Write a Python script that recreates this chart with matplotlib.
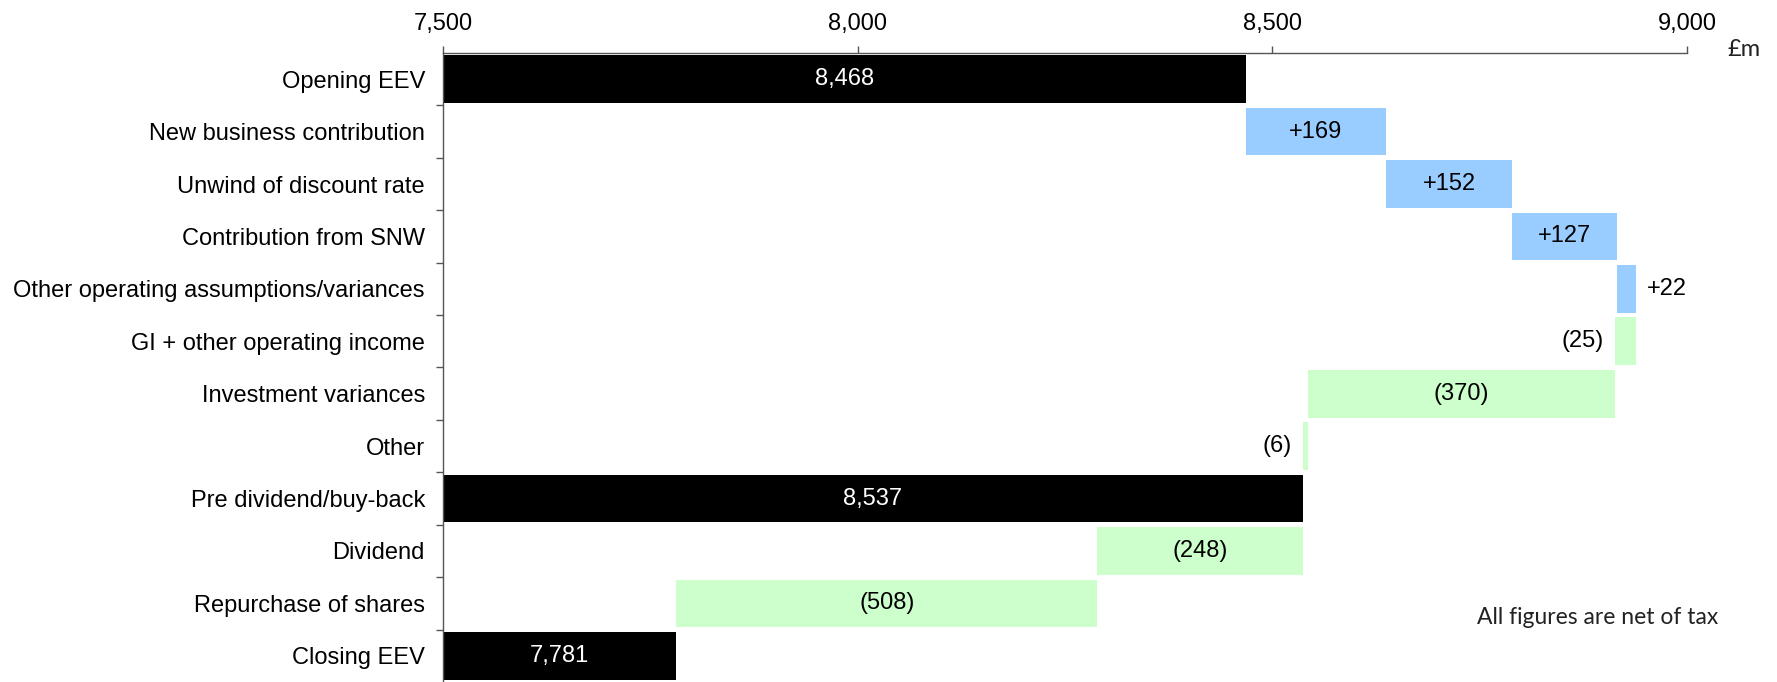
import matplotlib
matplotlib.use("Agg")
import matplotlib.pyplot as plt
import numpy as np

plt.rcParams['font.family'] = ['Liberation Sans', 'DejaVu Sans']

categories = ["Opening EEV", "New business contribution", "Unwind of discount rate",
              "Contribution from SNW", "Other operating assumptions/variances",
              "GI + other operating income", "Investment variances", "Other",
              "Pre dividend/buy-back", "Dividend", "Repurchase of shares", "Closing EEV"]
values = [8468, 169, 152, 127, 22, -25, -370, -6, 8537, -248, -508, 7781]
kinds = ["total", "delta", "delta", "delta", "delta", "delta", "delta", "delta",
         "total", "delta", "delta", "total"]
labels = ["8,468", "+169", "+152", "+127", "+22", "(25)", "(370)", "(6)",
          "8,537", "(248)", "(508)", "7,781"]
label_pos = ["in", "in", "in", "in", "right", "left", "in", "left",
             "in", "in", "in", "in"]
x_ticks = [7500, 8000, 8500, 9000]
x_ticklabels = ["7,500", "8,000", "8,500", "9,000"]

BASE = 7500
col_total = "#000000"
col_pos = "#99CCFF"
col_neg = "#CCFFCC"
FS = 17

fig = plt.figure(figsize=(17.77, 6.82), dpi=100)
ax = fig.add_axes([0.2493, 0.0, 0.9494 - 0.2493, 0.9223])

running = 0
for i, (v, k) in enumerate(zip(values, kinds)):
    if k == "total":
        left, width, color = BASE, v - BASE, col_total
        running = v
    else:
        if v >= 0:
            left, width, color = running, v, col_pos
        else:
            left, width, color = running + v, -v, col_neg
        running += v
    ax.barh(i, width, left=left, height=0.91, color=color, edgecolor='none')
    lab = labels[i]
    tc = "white" if k == "total" else "black"
    pos = label_pos[i]
    if pos == "in":
        ax.text(left + width / 2, i, lab, ha='center', va='center', fontsize=FS, color=tc)
    elif pos == "right":
        ax.annotate(lab, (left + width, i), xytext=(8, 0), textcoords='offset points',
                    ha='left', va='center', fontsize=FS, color=tc)
    else:
        ax.annotate(lab, (left, i), xytext=(-8, 0), textcoords='offset points',
                    ha='right', va='center', fontsize=FS, color=tc)

ax.set_xlim(7500, 9000)
ax.set_ylim(len(categories) - 0.5, -0.5)
ax.xaxis.tick_top()
ax.set_xticks(x_ticks)
ax.set_xticklabels(x_ticklabels, fontsize=FS)
ax.tick_params(axis='x', direction='out', length=5, width=1, color='#555555', pad=8)
ax.set_yticks(range(len(categories)))
ax.set_yticklabels(categories, fontsize=FS)
ax.tick_params(axis='y', which='major', length=0, pad=13)
ax.set_yticks(np.arange(0.5, len(categories) - 0.5, 1), minor=True)
ax.tick_params(axis='y', which='minor', direction='out', length=5, width=1, color='#555555')

for s in ['right', 'bottom']:
    ax.spines[s].set_visible(False)
for s in ['left', 'top']:
    ax.spines[s].set_color('#555555')
    ax.spines[s].set_linewidth(1)

fig.text(1727 / 1777, 1 - 49 / 682, "£m", fontsize=17, family=['Lato', 'DejaVu Sans'],
         ha='left', va='center', color='#222222')
fig.text(1718 / 1777, 1 - 617 / 682, "All figures are net of tax", fontsize=16.5,
         family=['Lato', 'DejaVu Sans'], ha='right', va='center', color='#222222')

fig.savefig("out.png", dpi=100)
